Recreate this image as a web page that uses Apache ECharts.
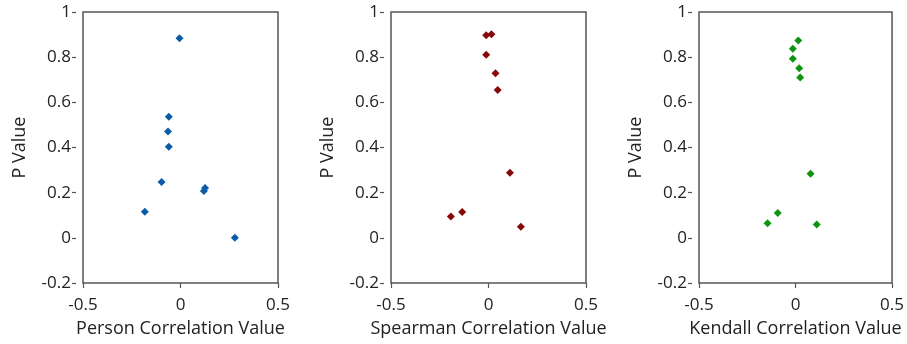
<!DOCTYPE html>
<html>
<head>
<meta charset="utf-8">
<script src="https://cdn.jsdelivr.net/npm/echarts@6/dist/echarts.min.js"></script>
<style>
  html, body { margin: 0; padding: 0; background: #fff; }
  #chart { width: 907px; height: 344px; }
</style>
</head>
<body>
<div id="chart"></div>
<script>
// correlation value vs p value, one panel per method
const pearsonX = [-0.005, -0.06, -0.064, -0.06, -0.097, 0.126, 0.12, -0.183, 0.279];
const pearsonP = [0.884, 0.536, 0.471, 0.403, 0.247, 0.221, 0.207, 0.116, 0.0];

const spearmanX = [-0.012, 0.015, -0.012, 0.036, 0.047, 0.11, -0.135, -0.193, 0.166];
const spearmanP = [0.897, 0.902, 0.811, 0.729, 0.655, 0.288, 0.114, 0.095, 0.049];

const kendallX = [0.014, -0.014, -0.014, 0.019, 0.024, 0.078, -0.092, -0.145, 0.11];
const kendallP = [0.874, 0.837, 0.793, 0.751, 0.71, 0.284, 0.11, 0.065, 0.059];

const xTitles = ['Person Correlation Value', 'Spearman Correlation Value', 'Kendall Correlation Value'];
const colors = ['#0a5ca8', '#870808', '#0e9410'];

const chart = echarts.init(document.getElementById('chart'));

const font = 'Open Sans, Noto Sans, sans-serif';
const textColor = '#222';
const gridLefts = [83, 391, 699];

let grids = [], xAxes = [], yAxes = [], series = [];
const pairs = [[pearsonX, pearsonP], [spearmanX, spearmanP], [kendallX, kendallP]];

for (var i = 0; i < 3; i++) {
  grids.push({
    left: gridLefts[i], top: 12, width: 195, height: 271,
    show: true, borderColor: '#555', borderWidth: 1.5, backgroundColor: '#fff'
  });
  xAxes.push({
    gridIndex: i, type: 'value', min: -0.5, max: 0.5, interval: 0.5,
    name: xTitles[i], nameLocation: 'middle', nameGap: 37,
    nameTextStyle: { fontFamily: font, fontSize: 18, color: textColor },
    axisLine: { show: false, onZero: false },
    axisTick: { show: true, length: 5, inside: false, lineStyle: { color: '#555', width: 1.2 } },
    axisLabel: { fontFamily: font, fontSize: 17, color: textColor, margin: 14 },
    splitLine: { show: false }
  });
  yAxes.push({
    gridIndex: i, type: 'value', min: -0.2, max: 1, interval: 0.2,
    offset: 7,
    name: 'P Value', nameLocation: 'middle', nameGap: 47,
    nameTextStyle: { fontFamily: font, fontSize: 18, color: textColor },
    axisLine: { show: false, onZero: false },
    axisTick: { show: true, length: 4, lineStyle: { color: '#555', width: 1.2 } },
    axisLabel: {
      fontFamily: font, fontSize: 17, color: textColor, margin: 5,
      formatter: (v) => String(Math.round(v * 10) / 10)
    },
    splitLine: { show: false }
  });
  const xs = pairs[i][0], ps = pairs[i][1];
  series.push({
    type: 'scatter', xAxisIndex: i, yAxisIndex: i,
    symbol: 'diamond', symbolSize: 8,
    itemStyle: { color: colors[i], opacity: 1 },
    data: xs.map((x, k) => [x, ps[k]])
  });
}

chart.setOption({
  animation: false,
  grid: grids,
  xAxis: xAxes,
  yAxis: yAxes,
  series: series
});
</script>
</body>
</html>
